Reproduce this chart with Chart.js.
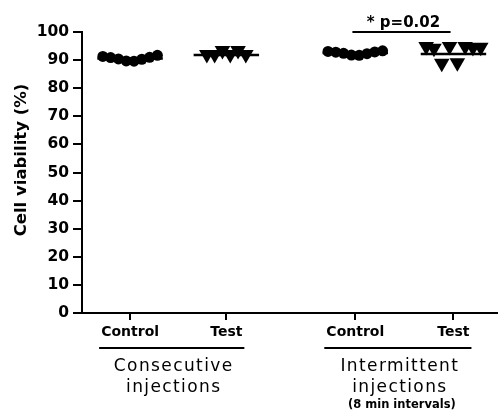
<!DOCTYPE html>
<html>
<head>
<meta charset="utf-8">
<script src="https://cdn.jsdelivr.net/npm/chart.js@4"></script>
<style>
  html, body { margin: 0; padding: 0; background: #fff; overflow: hidden; }
  #wrap { width: 498px; height: 412px; }
  canvas { display: block; }
</style>
</head>
<body>
<div id="wrap"><canvas id="chart"></canvas></div>
<script>
// values
const columnLabels = ['Control', 'Test', 'Control', 'Test'];
const groupTitles = [['Consecutive', 'injections'], ['Intermittent', 'injections']];
const groupNote = '(8 min intervals)';
const consControl = [91.3, 90.9, 90.4, 89.7, 89.6, 90.3, 91.0, 91.7];
const consTest = [92.0, 92.0, 93.4, 92.0, 93.4, 92.0];
const intControl = [93.1, 92.8, 92.4, 91.8, 91.7, 92.3, 92.9, 93.3];
const intTest = [94.8, 94.2, 88.9, 94.8, 89.1, 94.8, 94.5, 94.6];
const columnMeans = [90.6, 91.8, 92.5, 92.2];
const yTicks = [0, 10, 20, 30, 40, 50, 60, 70, 80, 90, 100];
const yTitle = 'Cell viability (%)';
const sigText = '* p=0.02';

// layout of the columns on the x axis
const columnX = [1, 2, 3.34, 4.36];
const spread = 0.081;
const meanHalf = 0.34;
const sigFrom = 3.31, sigTo = 4.33, sigLevel = 100;

function column(values, cx) {
  const n = values.length;
  return values.map((v, i) => ({ x: cx + (i - (n - 1) / 2) * spread, y: v }));
}

function meanLine(i) {
  return {
    type: 'line',
    data: [{ x: columnX[i] - meanHalf, y: columnMeans[i] }, { x: columnX[i] + meanHalf, y: columnMeans[i] }],
    borderColor: '#000', borderWidth: 2.5, pointRadius: 0, showLine: true,
  };
}

const circle = { pointStyle: 'circle', pointRadius: 5.5, backgroundColor: '#000', borderColor: '#000', borderWidth: 0 };
const tri = { pointStyle: 'triangle', rotation: 180, pointRadius: 9, backgroundColor: '#000', borderColor: '#000', borderWidth: 0 };

const annotations = {
  id: 'annotations',
  afterDraw(chart) {
    const { ctx, scales: { x, y } } = chart;
    ctx.save();
    ctx.fillStyle = '#000';
    ctx.strokeStyle = '#000';

    // y title
    ctx.save();
    ctx.translate(22, 160);
    ctx.rotate(-Math.PI / 2);
    ctx.font = 'bold 16.5px "DejaVu Sans"';
    ctx.textAlign = 'center';
    ctx.textBaseline = 'middle';
    ctx.fillText(yTitle, 0, 0);
    ctx.restore();

    // significance bar
    const by = y.getPixelForValue(sigLevel);
    const x1 = x.getPixelForValue(sigFrom), x2 = x.getPixelForValue(sigTo);
    ctx.lineWidth = 2;
    ctx.beginPath(); ctx.moveTo(x1, by); ctx.lineTo(x2, by); ctx.stroke();
    ctx.font = 'bold 15px "DejaVu Sans"';
    ctx.textAlign = 'center';
    ctx.textBaseline = 'alphabetic';
    ctx.fillText(sigText, (x1 + x2) / 2 + 2, by - 5);

    // group underlines and titles
    groupTitles.forEach((lines, g) => {
      const l = x.getPixelForValue(columnX[2 * g]) - 31;
      const r = x.getPixelForValue(columnX[2 * g + 1]) + 18;
      ctx.lineWidth = 2;
      ctx.beginPath(); ctx.moveTo(l, 348); ctx.lineTo(r, 348); ctx.stroke();
      const cx = (l + r) / 2 + 2;
      ctx.font = '17px "DejaVu Sans"';
      ctx.letterSpacing = '1.4px';
      ctx.fillText(lines[0], cx, 371);
      ctx.fillText(lines[1], cx, 392);
      ctx.letterSpacing = '0px';
      if (g === 1) {
        ctx.font = 'bold 11.5px "DejaVu Sans"';
        ctx.fillText(groupNote, cx + 2, 408);
      }
    });
    ctx.restore();
  }
};

new Chart(document.getElementById('chart'), {
  type: 'scatter',
  data: {
    datasets: [
      meanLine(0), meanLine(1), meanLine(2), meanLine(3),
      { data: column(consControl, columnX[0]), ...circle },
      { data: column(consTest, columnX[1]), ...tri },
      { data: column(intControl, columnX[2]), ...circle },
      { data: column(intTest, columnX[3]), ...tri },
    ]
  },
  options: {
    responsive: true,
    maintainAspectRatio: false,
    animation: false,
    layout: { autoPadding: false, padding: { top: 32, right: 0, bottom: 0, left: 0 } },
    plugins: { legend: { display: false }, tooltip: { enabled: false } },
    scales: {
      x: {
        type: 'linear', min: 0.5, max: 4.823,
        afterBuildTicks: axis => { axis.ticks = columnX.map(v => ({ value: v })); },
        afterFit: scale => { scale.height = 99; },
        border: { color: '#000', width: 2 },
        grid: { drawOnChartArea: false, color: '#000', lineWidth: 2, tickLength: 7 },
        ticks: {
          color: '#000', padding: 4, maxRotation: 0, autoSkip: false,
          font: { family: 'DejaVu Sans', weight: 'bold', size: 14 },
          callback: v => columnLabels[columnX.indexOf(v)] ?? '',
        },
      },
      y: {
        min: 0, max: 100,
        afterBuildTicks: axis => { axis.ticks = yTicks.map(v => ({ value: v })); },
        afterFit: scale => { scale.width = 82; },
        border: { color: '#000', width: 2 },
        grid: { drawOnChartArea: false, color: '#000', lineWidth: 2, tickLength: 9 },
        ticks: {
          color: '#000', padding: 4,
          font: { family: 'DejaVu Sans', weight: 'bold', size: 15.5 },
        },
      },
    },
  },
  plugins: [annotations],
});
</script>
</body>
</html>
